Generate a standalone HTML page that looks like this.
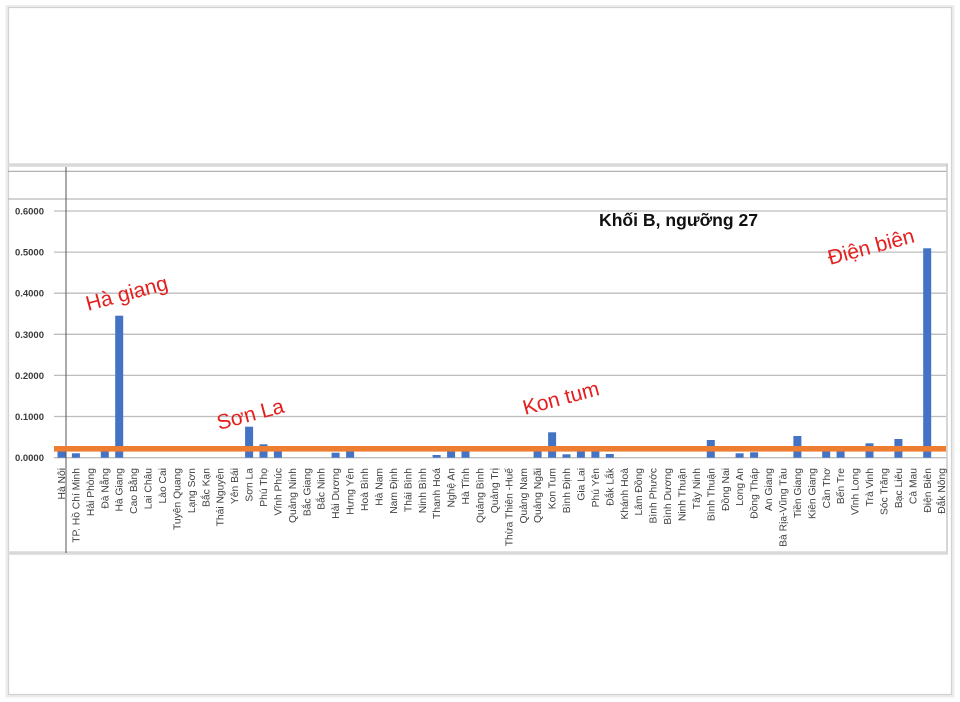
<!DOCTYPE html>
<html>
<head>
<meta charset="utf-8">
<style>
  html,body{margin:0;padding:0;background:#ffffff;}
  svg{display:block;}
  .lab{font-family:"Liberation Sans","DejaVu Sans",sans-serif;font-size:10.3px;fill:#404040;}
  .yl{font-family:"Liberation Sans","DejaVu Sans",sans-serif;font-size:9.5px;font-weight:bold;fill:#3a3a3a;}
  .red{font-family:"Liberation Sans","DejaVu Sans",sans-serif;font-size:21px;fill:#e3201f;}
</style>
</head>
<body>
<svg width="960" height="702" viewBox="0 0 960 702" xmlns="http://www.w3.org/2000/svg">
  <rect x="0" y="0" width="960" height="702" fill="#ffffff"/>
  <!-- outer frame with soft shadow -->
  <rect x="7" y="6.5" width="946" height="689.5" fill="none" stroke="#ececec" stroke-width="3"/>
  <rect x="8.5" y="7.5" width="943" height="687" fill="#ffffff" stroke="#d2d2d2" stroke-width="1.2"/>

  <!-- chart pane -->
  <line x1="8" y1="165" x2="948" y2="165" stroke="#d9d9d9" stroke-width="3.5"/>
  <line x1="8" y1="171.3" x2="947" y2="171.3" stroke="#a9a9a9" stroke-width="1.2"/>
  <line x1="947" y1="164" x2="947" y2="553" stroke="#c9c9c9" stroke-width="1.5"/>
  <line x1="8" y1="553" x2="948" y2="553" stroke="#d9d9d9" stroke-width="3.5"/>
  <line x1="8" y1="199" x2="947" y2="199" stroke="#b9b9b9" stroke-width="1.3"/>

  <!-- gridlines -->
  <g stroke="#bdbdbd" stroke-width="1.3">
    <line x1="54" y1="211" x2="946" y2="211"/>
    <line x1="54" y1="252.1" x2="946" y2="252.1"/>
    <line x1="54" y1="293.2" x2="946" y2="293.2"/>
    <line x1="54" y1="334.3" x2="946" y2="334.3"/>
    <line x1="54" y1="375.4" x2="946" y2="375.4"/>
    <line x1="54" y1="416.5" x2="946" y2="416.5"/>
    <line x1="54" y1="457.7" x2="946" y2="457.7"/>
  </g>

  <!-- y labels -->
  <g class="yl" text-anchor="end">
    <text x="44" y="214.5">0.6000</text>
    <text x="44" y="255.6">0.5000</text>
    <text x="44" y="296.7">0.4000</text>
    <text x="44" y="337.8">0.3000</text>
    <text x="44" y="378.9">0.2000</text>
    <text x="44" y="420">0.1000</text>
    <text x="44" y="461.2">0.0000</text>
  </g>

  <!-- vertical axis line -->
  <line x1="66" y1="167" x2="66" y2="553" stroke="#555555" stroke-width="1"/>

  <!-- bars -->
  <g fill="#4472c4">
    <rect x="57.5" y="449" width="8" height="8.7"/>
    <rect x="71.9" y="453.3" width="8" height="4.4"/>
    <rect x="100.8" y="449" width="8" height="8.7"/>
    <rect x="115.2" y="315.7" width="8" height="142"/>
    <rect x="245.1" y="426.7" width="8" height="31"/>
    <rect x="259.5" y="444.3" width="8" height="13.4"/>
    <rect x="273.9" y="449" width="8" height="8.7"/>
    <rect x="331.6" y="452.7" width="8" height="5"/>
    <rect x="346.1" y="449" width="8" height="8.7"/>
    <rect x="432.6" y="455" width="8" height="2.7"/>
    <rect x="447.1" y="449" width="8" height="8.7"/>
    <rect x="461.5" y="449" width="8" height="8.7"/>
    <rect x="533.6" y="449" width="8" height="8.7"/>
    <rect x="548.1" y="432.3" width="8" height="25.4"/>
    <rect x="562.5" y="454.3" width="8" height="3.4"/>
    <rect x="576.9" y="449" width="8" height="8.7"/>
    <rect x="591.4" y="449" width="8" height="8.7"/>
    <rect x="605.8" y="454" width="8" height="3.7"/>
    <rect x="706.8" y="440" width="8" height="17.7"/>
    <rect x="735.6" y="453.3" width="8" height="4.4"/>
    <rect x="750.1" y="452.3" width="8" height="5.4"/>
    <rect x="793.4" y="436" width="8" height="21.7"/>
    <rect x="822.2" y="449" width="8" height="8.7"/>
    <rect x="836.6" y="449" width="8" height="8.7"/>
    <rect x="865.5" y="443.3" width="8" height="14.4"/>
    <rect x="894.4" y="439" width="8" height="18.7"/>
    <rect x="923.2" y="248.3" width="8" height="209.4"/>
  </g>

  <!-- orange threshold line -->
  <rect x="54" y="446" width="892" height="5.6" fill="#ed7d31"/>

  <!-- category labels -->
  <g class="lab" text-anchor="end">
    <text transform="translate(65,468) rotate(-90)">Hà Nội</text>
    <text transform="translate(79.4,468) rotate(-90)">TP. Hồ Chí Minh</text>
    <text transform="translate(93.9,468) rotate(-90)">Hải Phòng</text>
    <text transform="translate(108.3,468) rotate(-90)">Đà Nẵng</text>
    <text transform="translate(122.7,468) rotate(-90)">Hà Giang</text>
    <text transform="translate(137.2,468) rotate(-90)">Cao Bằng</text>
    <text transform="translate(151.6,468) rotate(-90)">Lai Châu</text>
    <text transform="translate(166,468) rotate(-90)">Lào Cai</text>
    <text transform="translate(180.4,468) rotate(-90)">Tuyên Quang</text>
    <text transform="translate(194.9,468) rotate(-90)">Lạng Sơn</text>
    <text transform="translate(209.3,468) rotate(-90)">Bắc Kạn</text>
    <text transform="translate(223.7,468) rotate(-90)">Thái Nguyên</text>
    <text transform="translate(238.2,468) rotate(-90)">Yên Bái</text>
    <text transform="translate(252.6,468) rotate(-90)">Sơn La</text>
    <text transform="translate(267,468) rotate(-90)">Phú Thọ</text>
    <text transform="translate(281.5,468) rotate(-90)">Vĩnh Phúc</text>
    <text transform="translate(295.9,468) rotate(-90)">Quảng Ninh</text>
    <text transform="translate(310.3,468) rotate(-90)">Bắc Giang</text>
    <text transform="translate(324.7,468) rotate(-90)">Bắc Ninh</text>
    <text transform="translate(339.2,468) rotate(-90)">Hải Dương</text>
    <text transform="translate(353.6,468) rotate(-90)">Hưng Yên</text>
    <text transform="translate(368,468) rotate(-90)">Hoà Bình</text>
    <text transform="translate(382.5,468) rotate(-90)">Hà Nam</text>
    <text transform="translate(396.9,468) rotate(-90)">Nam Định</text>
    <text transform="translate(411.3,468) rotate(-90)">Thái Bình</text>
    <text transform="translate(425.8,468) rotate(-90)">Ninh Bình</text>
    <text transform="translate(440.2,468) rotate(-90)">Thanh Hoá</text>
    <text transform="translate(454.6,468) rotate(-90)">Nghệ An</text>
    <text transform="translate(469,468) rotate(-90)">Hà Tĩnh</text>
    <text transform="translate(483.5,468) rotate(-90)">Quảng Bình</text>
    <text transform="translate(497.9,468) rotate(-90)">Quảng Trị</text>
    <text transform="translate(512.3,468) rotate(-90)">Thừa Thiên -Huế</text>
    <text transform="translate(526.8,468) rotate(-90)">Quảng Nam</text>
    <text transform="translate(541.2,468) rotate(-90)">Quảng Ngãi</text>
    <text transform="translate(555.6,468) rotate(-90)">Kon Tum</text>
    <text transform="translate(570.1,468) rotate(-90)">Bình Định</text>
    <text transform="translate(584.5,468) rotate(-90)">Gia Lai</text>
    <text transform="translate(598.9,468) rotate(-90)">Phú Yên</text>
    <text transform="translate(613.3,468) rotate(-90)">Đắk Lắk</text>
    <text transform="translate(627.8,468) rotate(-90)">Khánh Hoà</text>
    <text transform="translate(642.2,468) rotate(-90)">Lâm Đồng</text>
    <text transform="translate(656.6,468) rotate(-90)">Bình Phước</text>
    <text transform="translate(671.1,468) rotate(-90)">Bình Dương</text>
    <text transform="translate(685.5,468) rotate(-90)">Ninh Thuận</text>
    <text transform="translate(699.9,468) rotate(-90)">Tây Ninh</text>
    <text transform="translate(714.4,468) rotate(-90)">Bình Thuận</text>
    <text transform="translate(728.8,468) rotate(-90)">Đồng Nai</text>
    <text transform="translate(743.2,468) rotate(-90)">Long An</text>
    <text transform="translate(757.6,468) rotate(-90)">Đồng Tháp</text>
    <text transform="translate(772.1,468) rotate(-90)">An Giang</text>
    <text transform="translate(786.5,468) rotate(-90)">Bà Rịa-Vũng Tàu</text>
    <text transform="translate(800.9,468) rotate(-90)">Tiền Giang</text>
    <text transform="translate(815.4,468) rotate(-90)">Kiên Giang</text>
    <text transform="translate(829.8,468) rotate(-90)">Cần Thơ</text>
    <text transform="translate(844.2,468) rotate(-90)">Bến Tre</text>
    <text transform="translate(858.7,468) rotate(-90)">Vĩnh Long</text>
    <text transform="translate(873.1,468) rotate(-90)">Trà Vinh</text>
    <text transform="translate(887.5,468) rotate(-90)">Sóc Trăng</text>
    <text transform="translate(901.9,468) rotate(-90)">Bạc Liêu</text>
    <text transform="translate(916.4,468) rotate(-90)">Cà Mau</text>
    <text transform="translate(930.8,468) rotate(-90)">Điện Biên</text>
    <text transform="translate(945.2,468) rotate(-90)">Đắk Nông</text>
  </g>

  <!-- title -->
  <text x="599" y="226" font-family="Liberation Sans, DejaVu Sans, sans-serif" font-size="17.5" font-weight="bold" fill="#111111" textLength="159" lengthAdjust="spacingAndGlyphs">Khối B, ngưỡng 27</text>

  <!-- red annotations -->
  <text class="red" x="88" y="311" transform="rotate(-15 88 311)">Hà giang</text>
  <text class="red" x="219" y="430" transform="rotate(-15 219 430)">Sơn La</text>
  <text class="red" x="525" y="415" transform="rotate(-15 525 415)">Kon tum</text>
  <text class="red" x="830" y="265" transform="rotate(-15 830 265)">Điện biên</text>
</svg>
</body>
</html>
